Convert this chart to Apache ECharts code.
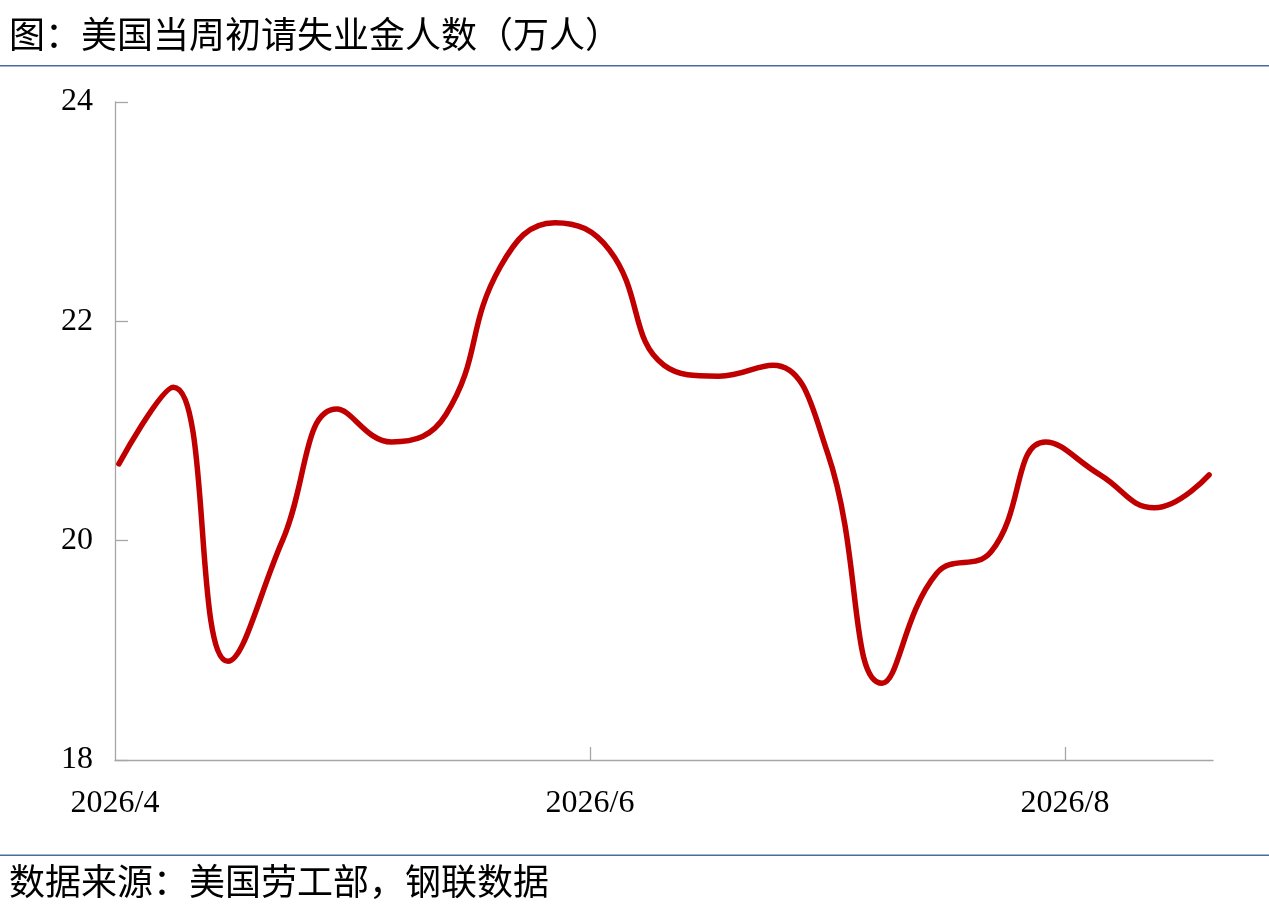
<!DOCTYPE html>
<html><head><meta charset="utf-8">
<script src="https://cdn.jsdelivr.net/npm/echarts@6/dist/echarts.min.js"></script>
<style>html,body{margin:0;padding:0;background:#fff}#c{width:1269px;height:922px}</style>
</head><body><div id="c"></div>
<script>
const titleText = '图：美国当周初请失业金人数（万人）';
const sourceText = '数据来源：美国劳工部，钢联数据';
const startDate = '2026-04-01';
const weeklyValues = [20.7, 21.4, 18.9, 20.0, 21.2, 20.9, 21.15, 22.5, 22.9, 22.65, 21.6, 21.5, 21.6, 20.8, 18.7, 19.7, 19.9, 20.9, 20.6, 20.3, 20.6];
const xLabelDates = ['2026-04-01', '2026-06-01', '2026-08-01'];
const yTicks = [18, 20, 22, 24];

const DAY = 86400000;
const t0 = Date.parse(startDate + 'T12:00:00Z');
const seriesData = weeklyValues.map((v, i) => [t0 + i * 7 * DAY, v]);
const labelVals = xLabelDates.map(d => Date.parse(d + 'T00:00:00Z'));
const axisMin = labelVals[0];
const axisMax = axisMin + 141 * DAY;

const chart = echarts.init(document.getElementById('c'));
const serif = "'Liberation Serif','Times New Roman','Noto Sans CJK SC',serif";
const cjk = "'Noto Sans CJK SC',sans-serif";
chart.setOption({
  animation: false,
  backgroundColor: '#fff',
  grid: {left: 115, right: 56, top: 102, bottom: 162, containLabel: false},
  xAxis: {
    type: 'value', min: axisMin, max: axisMax,
    axisLine: {show: true, lineStyle: {color: '#a6a6a6', width: 1.3}},
    axisTick: {show: true, inside: true, length: 13, lineStyle: {color: '#a6a6a6', width: 1.3}, customValues: labelVals.slice(1)},
    axisLabel: {
      customValues: labelVals, margin: 28, color: '#000', fontSize: 32, fontFamily: serif,
      formatter: v => { const d = new Date(v); return d.getUTCFullYear() + '/' + (d.getUTCMonth() + 1); }
    },
    splitLine: {show: false}
  },
  yAxis: {
    type: 'value', min: yTicks[0], max: yTicks[yTicks.length - 1], interval: 2,
    axisLine: {show: true, lineStyle: {color: '#a6a6a6', width: 1.3}},
    axisTick: {show: true, inside: true, length: 13, lineStyle: {color: '#a6a6a6', width: 1.3}},
    axisLabel: {margin: 22, color: '#000', fontSize: 32, fontFamily: serif},
    splitLine: {show: false}
  },
  series: [{
    type: 'line', data: seriesData, smooth: 0.45, showSymbol: false,
    lineStyle: {color: '#c00000', width: 5.5, cap: 'round', join: 'round'}
  }],
  graphic: [
    {type: 'text', left: 9, top: 16, style: {text: titleText, font: '36px ' + cjk, fill: '#000'}},
    {type: 'rect', shape: {x: 0, y: 65, width: 1269, height: 1.6}, style: {fill: '#4a6aa0'}},
    {type: 'rect', shape: {x: 0, y: 854.5, width: 1269, height: 1.6}, style: {fill: '#4a6aa0'}},
    {type: 'text', left: 9, top: 863, style: {text: sourceText, font: '36px ' + cjk, fill: '#000'}}
  ]
});
</script></body></html>
